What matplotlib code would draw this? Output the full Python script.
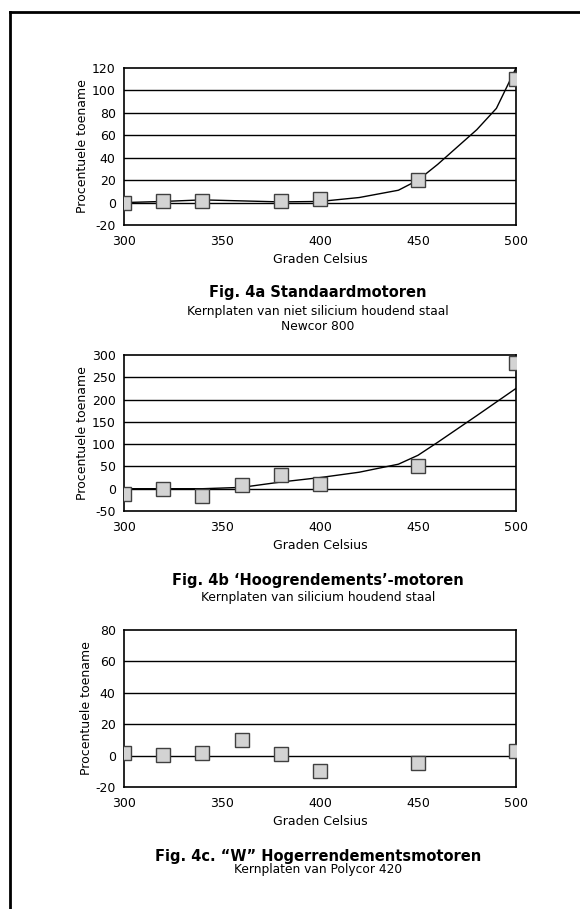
import matplotlib
matplotlib.use("Agg")
import matplotlib.pyplot as plt
from matplotlib.lines import Line2D

plt.rcParams['font.family'] = ['DejaVu Sans']
plt.rcParams['axes.unicode_minus'] = False

# ---- data ----
temps_a = [300, 320, 340, 380, 400, 450, 500]
vals_a = [0, 1.5, 1, 1, 3.5, 20, 110]
trend_a_x = [300, 320, 340, 380, 400, 420, 440, 450, 460, 480, 490, 500]
trend_a_y = [0, 1, 2.4, 0.6, 1, 4.5, 11, 20, 34, 65, 84, 120]

temps_b = [300, 320, 340, 360, 380, 400, 450, 500]
vals_b = [-11, -1, -16, 9, 30, 11, 50, 282]
trend_b_x = [300, 320, 340, 360, 380, 400, 420, 440, 450, 460, 480, 500]
trend_b_y = [0, 0, 0, 3, 15, 25, 37, 55, 75, 104, 164, 225]

temps_c = [300, 320, 340, 360, 380, 400, 450, 500]
vals_c = [1.7, 0.4, 1.7, 10, 1, -10, -4.6, 3]

xticks = [300, 350, 400, 450, 500]
yticks_a = [-20, 0, 20, 40, 60, 80, 100, 120]
yticks_b = [-50, 0, 50, 100, 150, 200, 250, 300]
yticks_c = [-20, 0, 20, 40, 60, 80]

W, H = 580, 909
fig = plt.figure(figsize=(W / 100, H / 100), dpi=100)

def px_axes(left, top, right, bottom):
    return fig.add_axes([left / W, (H - bottom) / H, (right - left) / W, (bottom - top) / H])

def style(ax, yticks, grid_vals):
    ax.set_xlim(300, 500)
    ax.set_ylim(yticks[0], yticks[-1])
    ax.set_xticks(xticks)
    ax.set_yticks(yticks)
    ax.tick_params(axis='x', length=0, labelsize=9, pad=7)
    ax.tick_params(axis='y', length=0, labelsize=9, pad=6)
    for g in grid_vals:
        ax.axhline(g, color='black', lw=1, zorder=1)
    for s in ax.spines.values():
        s.set_linewidth(1.2)
        s.set_color('black')
    ax.set_ylabel('Procentuele toename', fontsize=9, labelpad=2)
    ax.set_xlabel('Graden Celsius', fontsize=9, labelpad=4)

mk = dict(marker='s', markersize=9.5, markerfacecolor='#d3d3d3',
          markeredgecolor='#404040', markeredgewidth=1, linestyle='none', zorder=4)

ax1 = px_axes(124, 68, 516, 225)
style(ax1, yticks_a, yticks_a[1:-1])
ax1.plot(trend_a_x, trend_a_y, color='black', lw=1, zorder=3)
ax1.plot(temps_a, vals_a, **mk)

ax2 = px_axes(124, 355, 516, 511)
style(ax2, yticks_b, yticks_b[1:-1])
ax2.plot(trend_b_x, trend_b_y, color='black', lw=1, zorder=3)
ax2.plot(temps_b, vals_b, **mk)

ax3 = px_axes(124, 630, 516, 787)
style(ax3, yticks_c, yticks_c[1:-1])
ax3.plot(temps_c, vals_c, **mk)

def ftext(x, y, s, **kw):
    fig.text(x / W, 1 - y / H, s, ha='center', va='center', **kw)

cx = 318
ftext(cx, 293, 'Fig. 4a Standaardmotoren', fontsize=10.5, fontweight='bold')
ftext(cx, 311, 'Kernplaten van niet silicium houdend staal', fontsize=8.8)
ftext(cx, 327, 'Newcor 800', fontsize=8.8)
ftext(cx, 580, "Fig. 4b \u2018Hoogrendements\u2019-motoren", fontsize=10.5, fontweight='bold')
ftext(cx, 597, 'Kernplaten van silicium houdend staal', fontsize=8.8)
ftext(cx, 856, 'Fig. 4c. \u201cW\u201d Hogerrendementsmotoren', fontsize=10.5, fontweight='bold')
ftext(cx, 870, 'Kernplaten van Polycor 420', fontsize=8.8)

# outer frame (left and top edges visible)
fig.add_artist(Line2D([10 / W, 10 / W], [0, 1 - 12 / H], color='black', lw=2))
fig.add_artist(Line2D([10 / W, 1], [1 - 12 / H, 1 - 12 / H], color='black', lw=2))

fig.savefig('out.png', dpi=100)
